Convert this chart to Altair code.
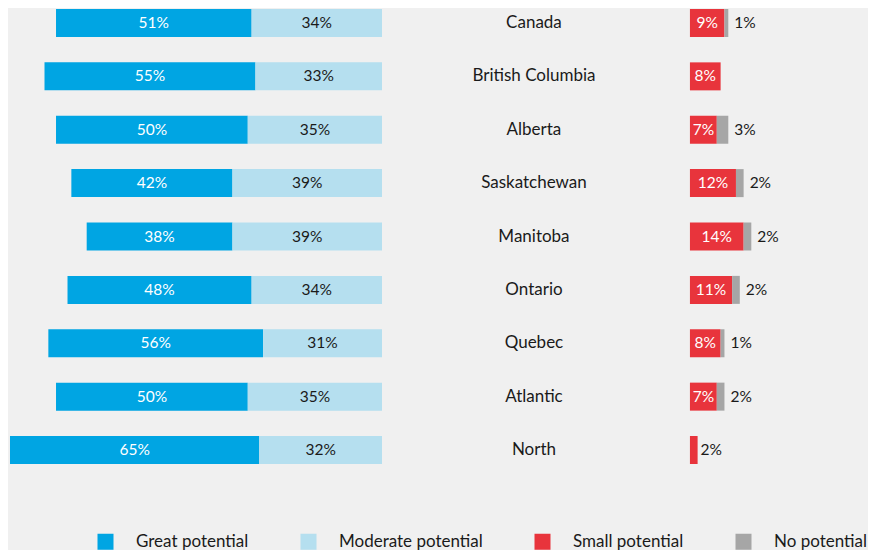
import altair as alt
import pandas as pd

categories = ["Canada", "British Columbia", "Alberta", "Saskatchewan", "Manitoba",
              "Ontario", "Quebec", "Atlantic", "North"]
great = [51, 55, 50, 42, 38, 48, 56, 50, 65]
moderate = [34, 33, 35, 39, 39, 34, 31, 35, 32]
small = [9, 8, 7, 12, 14, 11, 8, 7, 2]
none_ = [1, 0, 3, 2, 2, 2, 1, 2, 0]

series = ["Great potential", "Moderate potential", "Small potential", "No potential"]
colors = ["#00A5E3", "#B5DFEF", "#E8343C", "#A6A6A6"]

R = 80.3  # offset of right-hand block (in % units)
FONT = "Lato"
DARK = "#1a1a1a"

bars, labels = [], []
for i, c in enumerate(categories):
    g, m, s, n = great[i], moderate[i], small[i], none_[i]
    segs = [("Great potential", -(g + m), -m, g),
            ("Moderate potential", -m, 0, m),
            ("Small potential", R, R + s, s),
            ("No potential", R + s, R + s + n, n)]
    for name, a, b, v in segs:
        if v > 0:
            bars.append({"cat": c, "series": name, "x": a, "x2": b})
    labels.append({"cat": c, "x": -(g + m) + g / 2, "label": f"{g}%", "kind": "white_c"})
    labels.append({"cat": c, "x": -m / 2, "label": f"{m}%", "kind": "dark_c"})
    if s >= 5:
        labels.append({"cat": c, "x": R + s / 2, "label": f"{s}%", "kind": "white_c"})
    elif s > 0:
        labels.append({"cat": c, "x": R + s, "label": f"{s}%", "kind": "dark_l_small"})
    if n > 0:
        labels.append({"cat": c, "x": R + s + n, "label": f"{n}%", "kind": "dark_l"})

bars_df = pd.DataFrame(bars)
lab_df = pd.DataFrame(labels)
cat_df = pd.DataFrame({"cat": categories, "x": [R / 2] * len(categories)})

xscale = alt.Scale(domain=[-97.52, 126.73], nice=False, zero=False)
yenc = alt.Y("cat:N", sort=categories, axis=None,
             scale=alt.Scale(paddingInner=0.476, paddingOuter=0))

bar_layer = alt.Chart(bars_df).mark_bar(size=28).encode(
    x=alt.X("x:Q", scale=xscale, axis=None),
    x2="x2:Q",
    y=yenc,
    color=alt.Color("series:N",
                    scale=alt.Scale(domain=series, range=colors),
                    legend=alt.Legend(title=None, orient="none", direction="horizontal",
                                      legendX=89, legendY=524,
                                      symbolType="square", symbolSize=256,
                                      symbolStrokeWidth=0, symbolOpacity=1,
                                      labelFont=FONT, labelFontSize=17, labelColor=DARK,
                                      labelOffset=22, columnPadding=51, padding=0,
                                      labelLimit=300)),
)


def text_layer(kind, color, align, dx):
    return alt.Chart(lab_df).transform_filter(alt.datum.kind == kind).mark_text(
        font=FONT, fontSize=15.5, color=color, align=align, dx=dx, baseline="middle"
    ).encode(x=alt.X("x:Q", scale=xscale, axis=None), y=yenc, text="label:N")


t1 = text_layer("white_c", "white", "center", 0)
t2 = text_layer("dark_c", DARK, "center", 0)
t3 = text_layer("dark_l_small", DARK, "left", 3)
t4 = text_layer("dark_l", DARK, "left", 6)

cat_layer = alt.Chart(cat_df).mark_text(
    font=FONT, fontSize=17, color=DARK, align="center", baseline="middle", dx=-2
).encode(x=alt.X("x:Q", scale=xscale, axis=None), y=yenc, text="cat:N")

chart = alt.layer(bar_layer, t1, t2, t3, t4, cat_layer).properties(
    width=860, height=455, padding=0, background="#F0F0F0"
).configure_view(stroke=None)

chart.save("out.html", embed_options={"renderer": "svg", "actions": False})
